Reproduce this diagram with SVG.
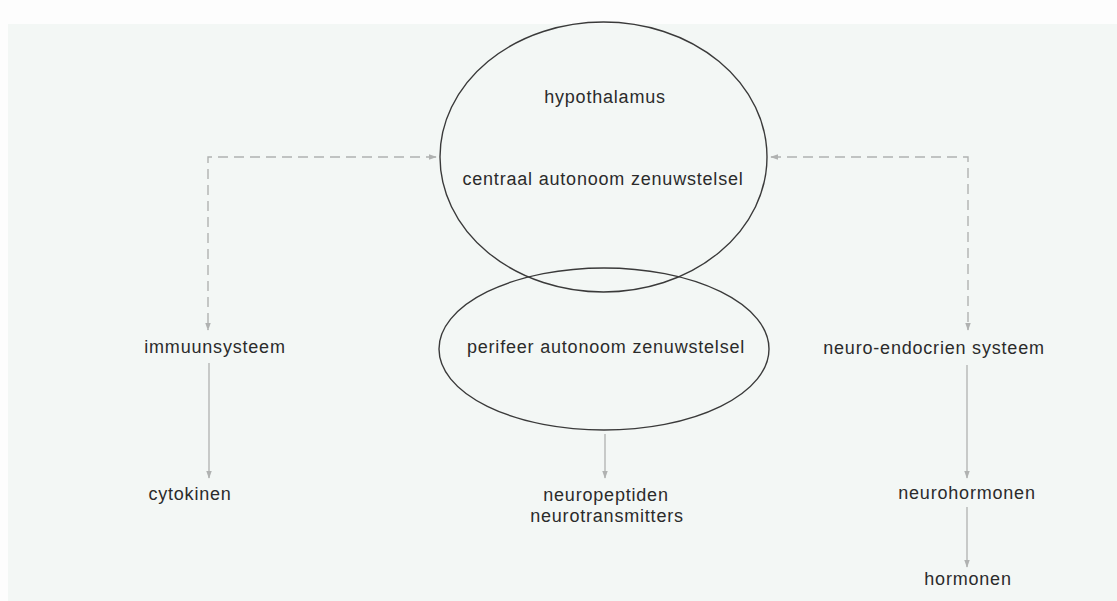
<svg xmlns="http://www.w3.org/2000/svg" width="1117" height="601" viewBox="0 0 1117 601">
<defs>
<style>
.lbl{font-family:"Liberation Sans",Arial,Helvetica,sans-serif;font-size:18px;letter-spacing:0.8px;fill:#2b2b2b;text-anchor:middle}
.ell{fill:none;stroke:#3a3a3a;stroke-width:1.4}
.dash{fill:none;stroke:#b0b2b1;stroke-width:1.4;stroke-dasharray:10 6}
.solid{fill:none;stroke:#b4b6b5;stroke-width:1.4}
</style>
<marker id="ah" viewBox="0 0 10 10" refX="9" refY="5" markerWidth="8" markerHeight="8" orient="auto-start-reverse" markerUnits="userSpaceOnUse">
<path d="M0,1.5 L10,5 L0,8.5 Z" fill="#b0b2b1"/>
</marker>
</defs>
<rect x="0" y="0" width="1117" height="601" fill="#fdfdfd"/>
<rect x="8" y="24" width="1109" height="577" fill="#f3f7f5"/>
<g id="connectors">
<path class="dash" d="M436,157 H208 V330" marker-start="url(#ah)" marker-end="url(#ah)"/>
<path class="dash" d="M771,157 H968 V330" marker-start="url(#ah)" marker-end="url(#ah)"/>
<path class="solid" d="M209,363 V478" marker-end="url(#ah)"/>
<path class="solid" d="M605,434 V478" marker-end="url(#ah)"/>
<path class="solid" d="M967,365 V478" marker-end="url(#ah)"/>
<path class="solid" d="M967,507 V567" marker-end="url(#ah)"/>
</g>
<g id="central">
<ellipse class="ell" cx="603.5" cy="157" rx="163.5" ry="135"/>
<text class="lbl" x="605" y="103">hypothalamus</text>
<text class="lbl" x="603" y="185">centraal autonoom zenuwstelsel</text>
</g>
<g id="peripheral">
<ellipse class="ell" cx="604" cy="349" rx="165" ry="81"/>
<text class="lbl" x="606" y="353">perifeer autonoom zenuwstelsel</text>
</g>
<g id="immune"><text class="lbl" x="215" y="353">immuunsysteem</text></g>
<g id="neuroendo"><text class="lbl" x="934" y="354">neuro-endocrien systeem</text></g>
<g id="cytokinen"><text class="lbl" x="190" y="500">cytokinen</text></g>
<g id="neuropeptiden">
<text class="lbl" x="606" y="501">neuropeptiden</text>
<text class="lbl" x="607" y="522">neurotransmitters</text>
</g>
<g id="neurohormonen"><text class="lbl" x="967" y="499">neurohormonen</text></g>
<g id="hormonen"><text class="lbl" x="968" y="585">hormonen</text></g>
</svg>
